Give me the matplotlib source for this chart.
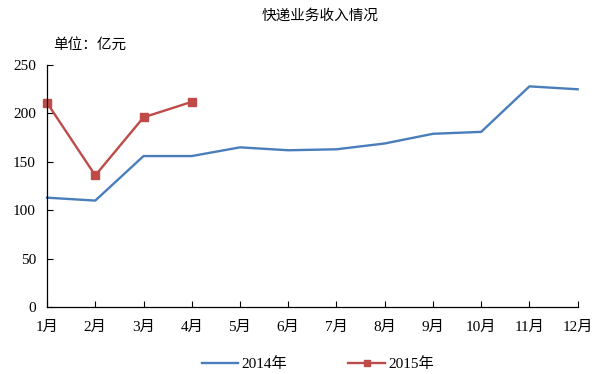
import matplotlib
matplotlib.use("Agg")
import matplotlib.pyplot as plt

months = ["1月", "2月", "3月", "4月", "5月", "6月", "7月", "8月", "9月", "10月", "11月", "12月"]
income_2014 = [113, 110, 156, 156, 165, 162, 163, 169, 179, 181, 228, 225]
income_2015 = [211, 136, 196, 212]
yticks = [0, 50, 100, 150, 200, 250]

fonts = ["Liberation Serif", "Noto Sans CJK SC"]
plt.rcParams["font.family"] = fonts

fig = plt.figure(figsize=(6.03, 3.74), dpi=100)
ax = fig.add_axes([0.078, 0.179, 0.88, 0.647])

x = list(range(len(months)))
ax.plot(x, income_2014, color="#4a7ebb", lw=1.7, label="2014年", clip_on=False)
ax.plot(x[:len(income_2015)], income_2015, color="#be4b48", lw=1.7,
        marker="s", markersize=6, label="2015年", clip_on=False)

ax.set_xlim(0, len(months) - 1)
ax.set_ylim(0, 250)
ax.set_xticks(x)
ax.set_xticklabels(months)
ax.set_yticks(yticks)
ax.tick_params(direction="in", length=4, labelsize=11, width=0.8)
ax.tick_params(axis="x", pad=10)
ax.tick_params(axis="y", pad=8)
for side in ("top", "right"):
    ax.spines[side].set_visible(False)
for side in ("left", "bottom"):
    ax.spines[side].set_linewidth(0.9)

fig.text(0.53, 0.957, "快递业务收入情况", ha="center", va="center",
         fontsize=10.5, family=["Noto Sans CJK SC"])
fig.text(0.088, 0.88, "单位：亿元", ha="left", va="center",
         fontsize=10.5, family=["Noto Sans CJK SC"])

ax.legend(loc="upper center", bbox_to_anchor=(0.51, -0.15), ncol=2,
          frameon=False, fontsize=11, handlelength=2.4, handletextpad=0.2,
          columnspacing=4, markerscale=0.8)

fig.savefig("out.png", dpi=100)
